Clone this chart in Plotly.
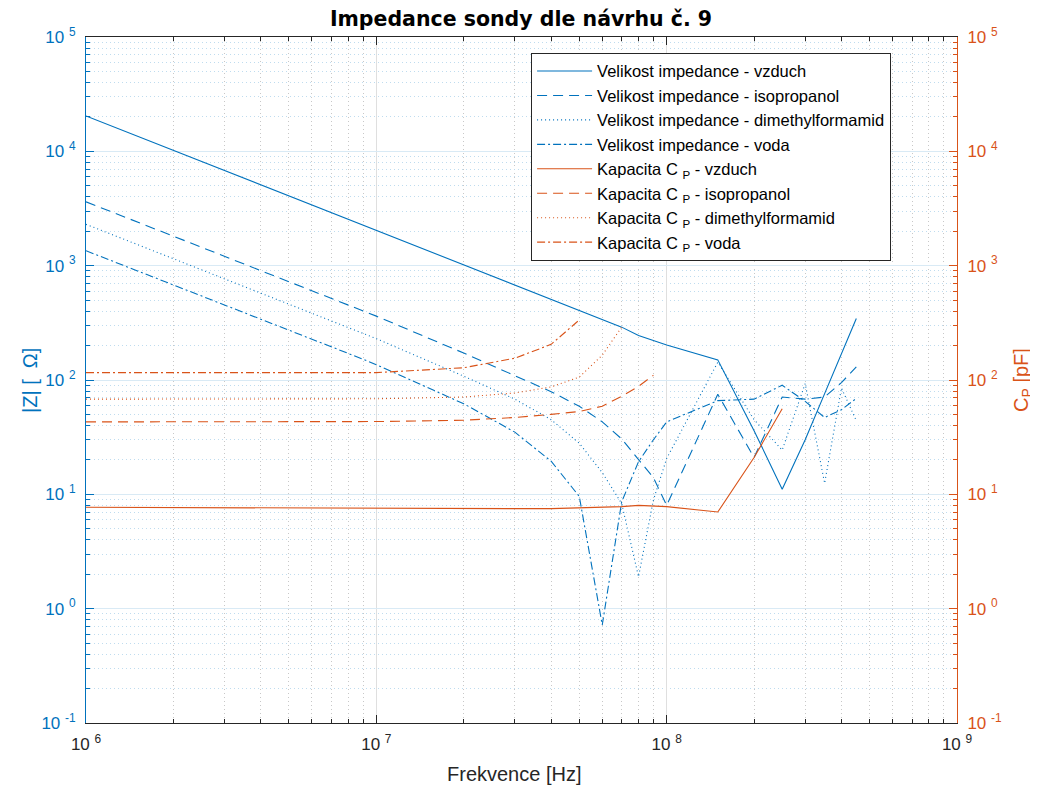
import plotly.graph_objects as go

# ---------------- data ----------------
freq_hz = [1e6, 2e6, 3e6, 4e6, 5e6, 6e6, 7e6, 8e6, 9e6,
           1e7, 2e7, 3e7, 4e7, 5e7, 6e7, 7e7, 8e7, 9e7,
           1e8, 1.5e8, 2e8, 2.5e8, 3e8, 3.5e8, 4e8, 4.5e8]

z_vzduch = [20400, 10200, 6800, 5100, 4080, 3400, 2920, 2550, 2270,
            2040, 1020, 682, 512, 410, 342, 290, 245, 222,
            202, 150, 36, 11.1, 30, 76, 170, 345]
z_isopropanol = [3620, 1810, 1207, 905, 724, 603, 517, 452, 402,
                 362, 172, 110, 79, 59, 43, 30.5, 20, 14,
                 8.0, 75, 21, 71, 68, 71, 95, 130]
z_dmf = [2300, 1150, 767, 575, 460, 383, 329, 288, 256,
         230, 108, 68, 45, 28, 15.5, 8.3, 1.9, 8.9,
         20.6, 143, 45, 24.4, 93, 12.5, 85, 44]
z_voda = [1350, 680, 455, 342, 273, 228, 195, 171, 152,
          136, 62, 35, 19.5, 9.6, 0.72, 8.6, 19.3, 30,
          43, 66, 68, 90, 65, 47, 55, 69]

cp_vzduch = [7.7, 7.65, 7.6, 7.6, 7.55, 7.55, 7.5, 7.5, 7.5,
             7.5, 7.45, 7.5, 7.5, 7.6, 7.65, 7.8, 8.0, 7.9,
             7.8, 7.0, 21, 56, None, None, None, None]
cp_isopropanol = [43, 43, 43, 43, 43, 43, 43, 43, 43.2,
                  43.3, 44.5, 47, 50, 53, 59, 72, 88, 110,
                  None, None, None, None, None, None, None, None]
cp_dmf = [68, 68, 68, 68, 68, 68, 68, 68, 68.2,
          68.5, 71, 77, 87, 106, 165, 290, None, None,
          None, None, None, None, None, None, None, None]
cp_voda = [116, 116, 116, 116, 116, 116, 116, 116, 116,
           116, 128, 155, 205, 335, None, None, None, None,
           None, None, None, None, None, None, None, None]

z_names = ["Velikost impedance - vzduch", "Velikost impedance - isopropanol",
           "Velikost impedance - dimethylformamid", "Velikost impedance - voda"]
cp_names = ["Kapacita C <sub>P</sub> - vzduch", "Kapacita C <sub>P</sub> - isopropanol",
            "Kapacita C <sub>P</sub> - dimethylformamid", "Kapacita C <sub>P</sub> - voda"]

x_tickvals = [1e6, 1e7, 1e8, 1e9]
x_ticktext = ["10 <sup>6</sup>", "10 <sup>7</sup>", "10 <sup>8</sup>", "10 <sup>9</sup>"]
y_tickvals = [0.1, 1, 10, 100, 1e3, 1e4, 1e5]
y_ticktext = ["10 <sup>-1</sup>", "10 <sup>0</sup>", "10 <sup>1</sup>", "10 <sup>2</sup>",
              "10 <sup>3</sup>", "10 <sup>4</sup>", "10 <sup>5</sup>"]

title_text = "Impedance sondy dle návrhu č. 9"
x_title = "Frekvence [Hz]"
y_title = "|Z| [\u00a0\u00a0Ω]"
y2_title = "C<sub>P</sub> [pF]"

# ---------------- styling ----------------
BLUE = "#0072BD"
ORANGE = "#D95319"
DARK = "#262626"
dashes = ["solid", "10px,6px", "1px,3px", "8px,3px,2px,3px"]

x_minor = [m * 10 ** e for e in range(6, 9) for m in range(2, 10)]
y_minor = [m * 10.0 ** e for e in range(-1, 5) for m in range(2, 10)]

fig = go.Figure()
for name, vals, d in zip(z_names, [z_vzduch, z_isopropanol, z_dmf, z_voda], dashes):
    fig.add_trace(go.Scatter(x=freq_hz, y=vals, name=name, mode="lines",
                             line=dict(color=BLUE, width=1.1, dash=d), yaxis="y"))
for name, vals, d in zip(cp_names, [cp_vzduch, cp_isopropanol, cp_dmf, cp_voda], dashes):
    fig.add_trace(go.Scatter(x=freq_hz, y=vals, name=name, mode="lines",
                             line=dict(color=ORANGE, width=1.1, dash=d), yaxis="y2",
                             connectgaps=False))

FONT = "Liberation Sans, Arial, Helvetica, sans-serif"

# page body has an 8px default margin -> figure is 1030x777 placed at (8, 8)
W, H = 1030, 777
fig.update_layout(
    width=W, height=H,
    margin=dict(l=78, r=81, t=29, b=62, autoexpand=False),
    paper_bgcolor="white", plot_bgcolor="white",
    font=dict(family=FONT, size=16, color=DARK),
    title=dict(text="<b>" + title_text + "</b>", x=(521 - 8) / W, xref="container",
               y=1 - (19 - 8) / H, yref="container", xanchor="center", yanchor="middle",
               font=dict(size=20.5, color="#000000", family="DejaVu Sans")),
    showlegend=True,
    legend=dict(x=0.511, y=0.977, xanchor="left", yanchor="top",
                bgcolor="white", bordercolor=DARK, borderwidth=1,
                font=dict(size=16.5, color="#000000", family=FONT),
                tracegroupgap=0, itemwidth=55),
    xaxis=dict(type="log", range=[6, 9], tickmode="array", tickvals=x_tickvals,
               ticktext=x_ticktext, ticks="inside", ticklen=8, tickcolor=DARK,
               showline=True, linecolor=DARK, linewidth=1, mirror="ticks",
               showgrid=True, gridcolor="#DFDFDF", gridwidth=1,
               tickfont=dict(size=17, color=DARK), automargin=False,
               ticklabelstandoff=6, zeroline=False,
               minor=dict(tickvals=x_minor, ticks="inside", ticklen=4, tickcolor=DARK,
                          showgrid=True, gridcolor="#C8C8C8", griddash="1px,3px", gridwidth=1)),
    yaxis=dict(type="log", range=[-1, 5], tickmode="array", tickvals=y_tickvals,
               ticktext=y_ticktext, ticks="inside", ticklen=8, tickcolor=BLUE,
               showline=True, linecolor=BLUE, linewidth=1, mirror=False,
               showgrid=True, gridcolor="#D9EAF5", gridwidth=1,
               tickfont=dict(size=17, color=BLUE), ticklabelstandoff=6,
               zeroline=False, automargin=False,
               minor=dict(tickvals=y_minor, ticks="inside", ticklen=4, tickcolor=BLUE,
                          showgrid=True, gridcolor="#BFDCEF", griddash="1px,3px", gridwidth=1)),
    yaxis2=dict(type="log", range=[-1, 5], overlaying="y", side="right",
                tickmode="array", tickvals=y_tickvals, ticktext=y_ticktext,
                ticks="inside", ticklen=8, tickcolor=ORANGE,
                showline=True, linecolor=ORANGE, linewidth=1,
                showgrid=False, zeroline=False, automargin=False,
                tickfont=dict(size=17, color=ORANGE), ticklabelstandoff=6,
                minor=dict(tickvals=y_minor, ticks="inside", ticklen=4, tickcolor=ORANGE,
                           showgrid=False)),
    annotations=[
        dict(text=x_title, x=0.491, y=-0.0745, xref="paper", yref="paper",
             showarrow=False, xanchor="center", yanchor="middle",
             font=dict(size=20, color=DARK, family=FONT)),
        dict(text=y_title, x=-0.0643, y=0.5, xref="paper", yref="paper",
             showarrow=False, textangle=-90, xanchor="center", yanchor="middle",
             font=dict(size=20, color=BLUE, family=FONT)),
        dict(text=y2_title, x=1.0746, y=0.5, xref="paper", yref="paper",
             showarrow=False, textangle=-90, xanchor="center", yanchor="middle",
             font=dict(size=20, color=ORANGE, family=FONT)),
    ],
)

fig.write_html("out.html")
